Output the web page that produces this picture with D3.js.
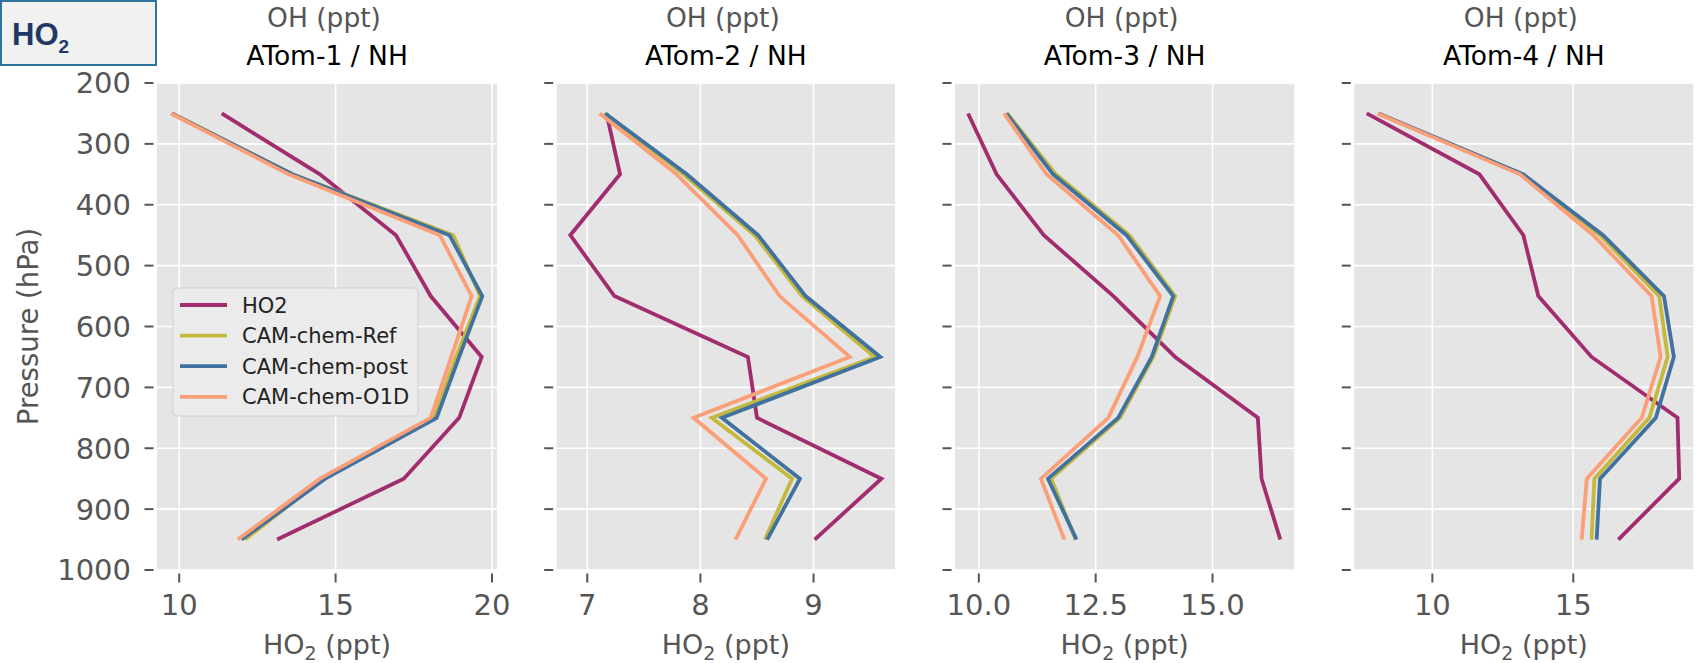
<!DOCTYPE html>
<html>
<head>
<meta charset="utf-8">
<script src="https://cdn.jsdelivr.net/npm/d3@7"></script>
<style>
  body { margin: 0; background: #fff; }
  svg { display: block; font-family: "DejaVu Sans", sans-serif; }
</style>
</head>
<body>
<svg id="chart" width="1704" height="663"></svg>
<script>
// pressure levels (hPa) of the profile bins
const pressure = [250, 350, 450, 550, 650, 750, 850, 950];
const yTicks = [200, 300, 400, 500, 600, 700, 800, 900, 1000];

const campaigns = ["ATom-1 / NH", "ATom-2 / NH", "ATom-3 / NH", "ATom-4 / NH"];
const seriesNames = ["HO2", "CAM-chem-Ref", "CAM-chem-post", "CAM-chem-O1D"];

// HO2 (ppt) per campaign
const atom1HO2 = [11.36, 14.5, 16.93, 18.04, 19.67, 18.95, 17.18, 13.13];
const atom1Ref = [9.78, 13.62, 18.76, 19.62, 18.85, 18.15, 14.6, 12.1];
const atom1Post = [9.76, 13.62, 18.64, 19.69, 18.95, 18.23, 14.67, 11.99];
const atom1O1D = [9.74, 13.5, 18.33, 19.35, 18.7, 18.04, 14.5, 11.87];

const atom2HO2 = [7.17, 7.29, 6.85, 7.24, 8.42, 8.5, 9.6, 9.01];
const atom2Ref = [7.15, 7.85, 8.48, 8.9, 9.54, 8.1, 8.81, 8.57];
const atom2Post = [7.16, 7.88, 8.51, 8.93, 9.59, 8.19, 8.88, 8.59];
const atom2O1D = [7.11, 7.79, 8.33, 8.7, 9.32, 7.94, 8.58, 8.31];

const atom3HO2 = [9.77, 10.38, 11.39, 12.88, 14.2, 15.97, 16.05, 16.45];
const atom3Ref = [10.61, 11.65, 13.22, 14.2, 13.73, 13.02, 11.55, 12.07];
const atom3Post = [10.59, 11.59, 13.16, 14.16, 13.7, 12.98, 11.48, 12.09];
const atom3O1D = [10.54, 11.45, 12.98, 13.88, 13.39, 12.77, 11.33, 11.83];

const atom4HO2 = [7.67, 11.67, 13.23, 13.76, 15.65, 18.7, 18.76, 16.6];
const atom4Ref = [8.07, 13.2, 15.95, 18.05, 18.35, 17.7, 15.75, 15.65];
const atom4Post = [8.09, 13.23, 16.06, 18.22, 18.57, 17.93, 15.95, 15.83];
const atom4O1D = [8.05, 13.11, 15.71, 17.78, 18.1, 17.43, 15.48, 15.3];

const xTicks = [[10, 15, 20], [7, 8, 9], [10, 12.5, 15], [10, 15]];
const xDomains = [[9.29, 20.16], [6.73, 9.72], [9.49, 16.75], [7.23, 19.26]];

const panelData = [
  [atom1HO2, atom1Ref, atom1Post, atom1O1D],
  [atom2HO2, atom2Ref, atom2Post, atom2O1D],
  [atom3HO2, atom3Ref, atom3Post, atom3O1D],
  [atom4HO2, atom4Ref, atom4Post, atom4O1D],
];

const colors = ["#a12d6f", "#c5b83f", "#41729f", "#fb9f79"];

const svg = d3.select("#chart");
const plotTop = 83, plotBottom = 570;
const panels = [
  { left: 157, width: 340 },
  { left: 556.7, width: 338.3 },
  { left: 955, width: 339.3 },
  { left: 1354.3, width: 339 },
];

const y = d3.scaleLinear().domain([200, 1000]).range([plotTop, plotBottom]);

panels.forEach((p, i) => {
  const x = d3.scaleLinear().domain(xDomains[i]).range([p.left, p.left + p.width]);
  const g = svg.append("g");

  g.append("rect")
    .attr("x", p.left).attr("y", plotTop)
    .attr("width", p.width).attr("height", plotBottom - plotTop)
    .attr("fill", "#e5e5e5");

  // grid
  g.selectAll(".vgrid").data(xTicks[i]).enter().append("line")
    .attr("x1", d => x(d)).attr("x2", d => x(d))
    .attr("y1", plotTop).attr("y2", plotBottom)
    .attr("stroke", "#fff").attr("stroke-width", 1.6);
  g.selectAll(".hgrid").data(yTicks).enter().append("line")
    .attr("x1", p.left).attr("x2", p.left + p.width)
    .attr("y1", d => y(d)).attr("y2", d => y(d))
    .attr("stroke", "#fff").attr("stroke-width", 1.6);

  // y ticks (labels only on the first panel)
  g.selectAll(".ytick").data(yTicks).enter().append("line")
    .attr("x1", p.left - 12.5).attr("x2", p.left - 3.5)
    .attr("y1", d => y(d)).attr("y2", d => y(d))
    .attr("stroke", "#555").attr("stroke-width", 2);
  if (i === 0) {
    g.selectAll(".ylab").data(yTicks).enter().append("text")
      .attr("x", 131).attr("y", d => y(d))
      .attr("dy", "0.36em")
      .attr("text-anchor", "end")
      .attr("fill", "#555")
      .style("font-size", "29px")
      .text(d => d);
    g.append("text")
      .attr("transform", `translate(38,${(plotTop + plotBottom) / 2})rotate(-90)`)
      .attr("text-anchor", "middle")
      .attr("fill", "#555")
      .style("font-size", "27.5px")
      .text("Pressure (hPa)");
  }

  // x ticks
  const fmt = i === 2 ? d3.format(".1f") : d3.format("d");
  g.selectAll(".xtick").data(xTicks[i]).enter().append("line")
    .attr("x1", d => x(d)).attr("x2", d => x(d))
    .attr("y1", plotBottom + 3.5).attr("y2", plotBottom + 12.5)
    .attr("stroke", "#555").attr("stroke-width", 2);
  g.selectAll(".xlab").data(xTicks[i]).enter().append("text")
    .attr("x", d => x(d)).attr("y", 615)
    .attr("text-anchor", "middle")
    .attr("fill", "#555")
    .style("font-size", "29px")
    .text(fmt);

  const xl = g.append("text")
    .attr("x", p.left + p.width / 2).attr("y", 654)
    .attr("text-anchor", "middle")
    .attr("fill", "#555")
    .style("font-size", "27px");
  xl.append("tspan").text("HO");
  xl.append("tspan").attr("dy", 6).style("font-size", "19px").text("2");
  xl.append("tspan").attr("dy", -6).text(" (ppt)");

  // titles
  g.append("text")
    .attr("x", p.left + p.width / 2 - 3).attr("y", 27)
    .attr("text-anchor", "middle")
    .attr("fill", "#555")
    .style("font-size", "26.5px")
    .text("OH (ppt)");
  g.append("text")
    .attr("x", p.left + p.width / 2).attr("y", 65)
    .attr("text-anchor", "middle")
    .attr("fill", "#000")
    .style("font-size", "26.5px")
    .text(campaigns[i]);

  // profiles
  const line = d3.line()
    .x(d => x(d[0]))
    .y(d => y(d[1]));
  panelData[i].forEach((vals, k) => {
    g.append("path")
      .datum(vals.map((v, j) => [v, pressure[j]]))
      .attr("fill", "none")
      .attr("stroke", colors[k])
      .attr("stroke-width", 3.8)
      .attr("d", line);
  });

  // legend in the first panel
  if (i === 0) {
    const lg = g.append("g");
    lg.append("rect")
      .attr("x", 173).attr("y", 288)
      .attr("width", 245).attr("height", 128)
      .attr("rx", 4)
      .attr("fill", "#ebebeb").attr("fill-opacity", 0.9)
      .attr("stroke", "#cfcfcf");
    seriesNames.forEach((name, k) => {
      const ly = 305 + k * 30.6;
      lg.append("line")
        .attr("x1", 180).attr("x2", 227)
        .attr("y1", ly).attr("y2", ly)
        .attr("stroke", colors[k]).attr("stroke-width", 3.8);
      lg.append("text")
        .attr("x", 242).attr("y", ly)
        .attr("dy", "0.36em")
        .attr("fill", "#222")
        .style("font-size", "21px")
        .text(name);
    });
  }
});

// species label box, top-left
const box = svg.append("g");
box.append("rect")
  .attr("x", 1).attr("y", 1)
  .attr("width", 155).attr("height", 64)
  .attr("fill", "#f1f1f1")
  .attr("stroke", "#31739c").attr("stroke-width", 2);
const bt = box.append("text")
  .attr("x", 12).attr("y", 45)
  .attr("fill", "#1f3864")
  .style("font-family", "'Liberation Sans', Arial, sans-serif")
  .style("font-weight", "bold")
  .style("font-size", "31px");
bt.append("tspan").text("HO");
bt.append("tspan").attr("dy", 8).style("font-size", "19px").text("2");
</script>
</body>
</html>
